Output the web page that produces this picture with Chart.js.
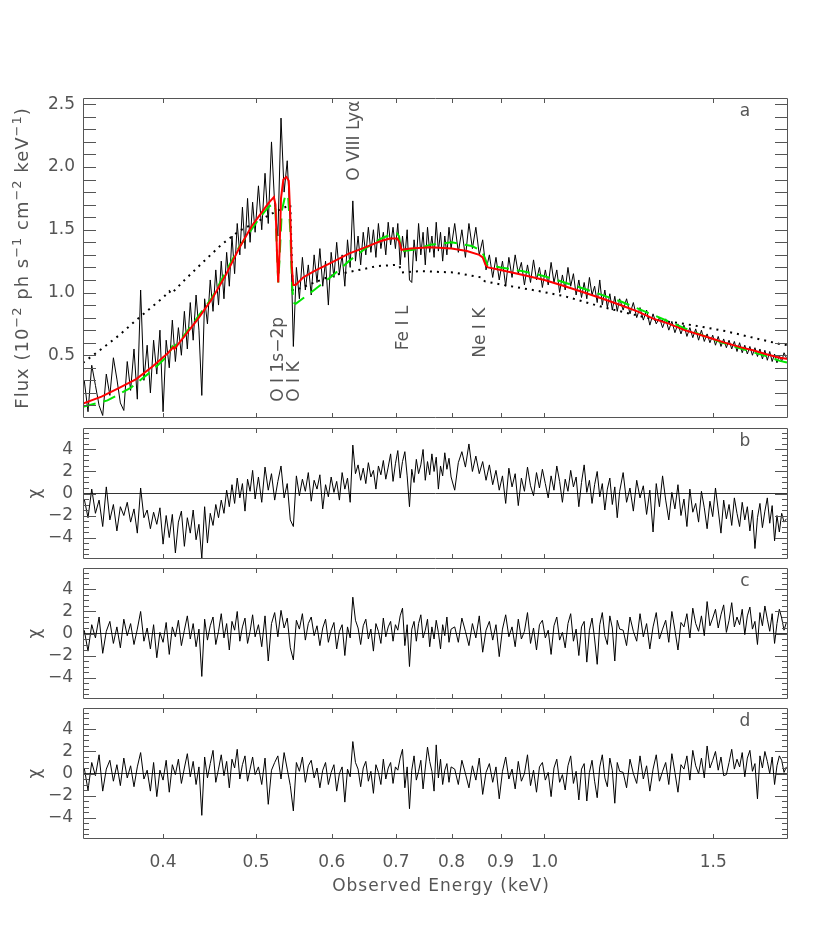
<!DOCTYPE html>
<html>
<head>
<meta charset="utf-8">
<script src="https://cdn.jsdelivr.net/npm/chart.js@4.4.1/dist/chart.umd.min.js"></script>
<style>
  html, body { margin: 0; padding: 0; background: #fff; }
  #wrap { position: relative; width: 830px; height: 933px; overflow: hidden; }
  #wrap canvas { position: absolute; left: 0; }
</style>
</head>
<body>
<div id="wrap">
  <canvas id="panelA" width="830" height="340" style="top:88px"></canvas>
  <canvas id="panelB" width="830" height="150" style="top:418px"></canvas>
  <canvas id="panelC" width="830" height="150" style="top:558px"></canvas>
  <canvas id="panelD" width="830" height="235" style="top:698px"></canvas>
</div>
<script>
// ---- axis limits & ticks ----
const X_MIN = 0.33, X_MAX = 1.795;
const xTickValues = [0.4, 0.5, 0.6, 0.7, 0.8, 0.9, 1.0, 1.5];
const fluxTickValues = [0.1, 0.2, 0.3, 0.4, 0.5, 0.6, 0.7, 0.8, 0.9, 1.0, 1.1, 1.2, 1.3,
  1.4, 1.5, 1.6, 1.7, 1.8, 1.9, 2.0, 2.1, 2.2, 2.3, 2.4, 2.5];
const fluxLabelValues = [0.5, 1.0, 1.5, 2.0, 2.5];
const chiTickValues = [-5.5, -5, -4.5, -4, -3.5, -3, -2.5, -2, -1.5, -1, -0.5, 0,
  0.5, 1, 1.5, 2, 2.5, 3, 3.5, 4, 4.5, 5, 5.5];
const chiLabelValues = [-4, -2, 0, 2, 4];

// ---- observed spectrum: energy bins (keV) ----
const energies = [
  0.331,0.334,0.337,0.340,0.343,0.346,0.349,0.352,0.355,0.358,
  0.361,0.364,0.367,0.370,0.373,0.376,0.379,0.382,0.385,0.388,
  0.391,0.394,0.397,0.400,0.403,0.406,0.409,0.412,0.415,0.418,
  0.421,0.424,0.427,0.430,0.433,0.436,0.439,0.442,0.445,0.448,
  0.451,0.454,0.457,0.460,0.463,0.466,0.469,0.472,0.475,0.478,
  0.481,0.484,0.487,0.490,0.493,0.496,0.499,
  0.503,0.507,0.511,0.515,0.519,0.523,0.527,0.531,0.535,0.539,
  0.543,0.547,0.551,0.555,0.559,0.563,0.567,0.571,0.575,0.579,
  0.583,0.587,0.591,0.595,0.599,0.603,0.607,0.611,0.615,0.619,
  0.623,0.627,0.631,0.635,0.639,0.643,0.647,0.651,0.655,0.659,
  0.663,0.667,0.671,0.675,0.679,0.683,0.687,0.691,0.695,0.699,
  0.703,0.707,0.711,0.715,0.719,0.723,0.727,0.731,0.735,0.739,
  0.743,0.747,0.751,0.755,0.759,0.763,0.767,0.771,0.775,0.779,
  0.783,0.787,0.791,0.795,0.799,
  0.806,0.813,0.820,0.827,0.834,0.841,0.848,0.855,0.862,0.869,
  0.876,0.883,0.890,0.897,0.904,0.911,0.918,0.925,0.932,0.939,
  0.946,0.953,0.960,0.967,0.974,0.981,0.988,0.995,1.002,1.009,
  1.016,1.023,1.030,1.037,1.044,1.051,1.058,1.065,1.072,1.079,
  1.086,1.093,1.100,1.107,1.114,1.121,1.128,1.135,1.142,1.149,
  1.156,1.163,1.170,1.177,1.184,1.191,1.198,
  1.208,1.218,1.228,1.238,1.248,1.258,1.268,1.278,1.288,1.298,
  1.308,1.318,1.328,1.338,1.348,1.358,1.368,1.378,1.388,1.398,
  1.408,1.418,1.428,1.438,1.448,1.458,1.468,1.478,1.488,1.498,
  1.508,1.518,1.528,1.538,1.548,1.558,1.568,1.578,1.588,1.598,
  1.608,1.618,1.628,1.638,1.648,1.658,1.668,1.678,1.688,1.698,
  1.708,1.718,1.728,1.738,1.748,1.758,1.768,1.778,1.788
];

// panel a: flux (10^-2 ph s^-1 cm^-2 keV^-1)
const flux = [
  0.30,0.05,0.42,0.26,0.10,0.02,0.35,0.18,0.48,0.31,
  0.12,0.06,0.45,0.22,0.55,0.15,1.02,0.30,0.58,0.20,
  0.62,0.35,0.70,0.05,0.62,0.40,0.78,0.45,0.72,0.50,
  0.85,0.55,0.92,0.62,0.98,0.70,0.18,0.95,0.75,1.10,
  0.85,1.18,0.90,1.25,0.95,1.32,1.05,1.45,1.15,1.55,
  1.30,1.68,1.35,1.75,1.40,1.72,1.48,
  1.85,1.50,1.95,1.55,2.20,1.70,1.45,2.39,1.80,2.05,
  1.55,0.57,1.20,0.95,1.28,1.02,1.22,0.98,1.30,1.08,
  1.35,1.05,1.25,0.90,1.32,1.12,1.40,1.15,1.30,1.05,
  1.42,1.20,1.73,1.25,1.45,1.22,1.48,1.30,1.52,1.32,
  1.50,1.28,1.55,1.35,1.48,1.30,1.56,1.38,1.52,1.35,
  1.55,1.22,1.45,1.28,1.50,1.10,1.08,1.42,1.25,1.55,
  1.30,1.48,1.22,1.52,1.32,1.45,1.28,1.56,1.33,1.48,
  1.25,1.45,1.30,1.52,1.35,
  1.55,1.32,1.50,1.28,1.55,1.35,1.52,1.30,1.42,1.18,
  1.30,1.12,1.28,1.10,1.25,1.05,1.28,1.12,1.30,1.15,
  1.24,1.06,1.22,1.08,1.26,1.10,1.20,1.04,1.18,1.06,
  1.24,1.08,1.18,1.00,1.14,1.02,1.20,1.05,1.15,0.98,
  1.10,0.96,1.08,0.95,1.12,0.98,1.05,0.92,1.10,0.90,
  1.02,0.88,0.99,0.86,0.97,0.85,0.95,
  0.86,0.95,0.83,0.92,0.80,0.88,0.78,0.86,0.74,0.83,
  0.75,0.80,0.72,0.79,0.70,0.77,0.68,0.75,0.67,0.74,
  0.65,0.72,0.64,0.71,0.62,0.70,0.61,0.67,0.60,0.66,
  0.58,0.65,0.57,0.63,0.56,0.62,0.55,0.61,0.53,0.60,
  0.52,0.58,0.51,0.57,0.50,0.56,0.49,0.55,0.47,0.54,
  0.46,0.53,0.45,0.51,0.44,0.50,0.45,0.52,0.48
];

// panel b: residuals, first model
const chiB = [
  -0.5,-2.2,0.4,-1.8,-0.6,-3.0,0.6,-2.4,-1.0,-3.4,
  -1.2,-2.0,-0.8,-2.6,-1.4,-3.6,0.5,-2.2,-1.5,-3.2,
  -1.7,-2.8,-1.3,-4.6,-2.0,-4.0,-1.9,-5.4,-2.6,-1.6,
  -4.8,-2.2,-3.6,-1.5,-4.2,-2.8,-5.9,-1.2,-4.5,-1.8,
  -2.9,-1.0,-2.2,-0.6,-1.8,0.3,-1.2,0.8,-0.9,1.4,
  -0.4,0.9,-1.6,1.3,0.2,2.1,-0.5,
  1.5,-0.8,2.4,0.3,1.8,-0.6,1.1,2.5,-0.4,0.9,
  -2.4,-3.0,1.6,-0.2,1.3,0.2,1.9,-0.7,1.2,0.4,
  1.7,-1.4,0.8,-0.3,1.5,0.1,1.1,-0.6,1.9,0.4,
  1.4,-0.8,4.4,1.8,2.6,1.2,2.3,0.9,2.8,1.5,
  2.1,0.4,2.5,1.7,3.0,1.3,2.4,3.6,1.1,2.7,
  3.9,1.4,2.9,3.8,1.6,-1.2,2.2,1.0,3.1,1.8,
  2.6,4.0,1.2,2.9,1.7,3.6,2.0,3.3,0.4,2.5,
  1.6,3.7,2.2,3.2,1.5,
  0.3,2.8,3.8,2.4,4.5,2.0,3.4,1.8,2.9,1.2,
  2.6,0.8,2.1,0.3,1.6,-0.9,2.3,0.6,1.8,-1.1,
  1.4,0.2,2.4,0.7,-0.2,1.9,0.5,2.2,0.9,-0.4,
  1.6,0.3,2.5,1.1,-0.8,1.3,0.2,2.1,0.6,1.5,
  -1.2,1.0,2.6,0.1,1.2,-0.9,0.8,2.0,-0.3,0.9,
  -1.5,0.4,1.4,-1.0,0.6,-2.2,0.2,
  1.9,-0.8,0.5,-1.6,1.2,-0.4,0.7,-1.9,0.3,-3.5,
  0.9,-1.2,1.6,-0.6,-2.4,0.1,-1.4,0.8,-2.0,-0.5,
  -3.0,0.4,-1.7,-0.9,-2.6,0.2,-1.3,-3.2,-0.7,-2.1,
  0.5,-1.5,-3.6,-0.6,-2.3,-1.0,-2.9,-0.4,-1.8,-3.0,
  -0.8,-2.4,-1.2,-3.4,-1.5,-5.0,-2.2,-0.9,-3.1,-1.6,
  -0.4,-2.7,-1.1,-4.3,-2.0,-3.5,-1.8,-2.6,-2.3
];

// panel c: residuals, second model
const chiC = [
  0.3,-1.6,0.8,-0.4,1.5,-1.8,0.2,1.1,-0.9,0.6,
  -1.3,1.3,-0.2,0.9,-1.0,0.4,2.0,-0.7,0.5,-1.4,
  0.8,-2.2,0.1,-0.8,1.0,-1.9,0.6,-0.3,1.2,-1.1,
  0.3,1.6,-0.5,0.9,-1.2,0.4,-3.9,1.3,-0.6,0.7,
  1.5,-1.0,0.2,1.8,-0.4,0.9,-1.5,1.1,0.3,2.0,
  -0.7,0.6,1.4,-0.9,0.2,1.7,-0.3,
  0.8,-1.2,1.6,-2.5,0.9,1.9,-0.3,2.1,0.5,1.4,
  -1.3,-2.4,1.2,0.4,1.8,-0.6,0.9,1.5,-0.2,0.7,
  -1.1,0.5,1.3,-0.8,0.3,1.0,-1.4,0.2,0.8,-2.0,
  0.6,-0.4,3.3,1.2,0.5,-1.0,0.7,1.3,-0.5,0.4,
  -1.6,0.9,0.2,-0.9,1.4,-0.3,0.6,1.1,-0.7,0.8,
  0.3,1.6,2.3,-1.1,0.8,-3.0,0.4,1.1,-0.7,0.9,
  1.7,-0.4,0.3,1.3,-1.2,0.6,-0.5,1.2,0.1,-1.4,
  0.8,-0.2,1.5,-0.8,0.4,
  0.6,-0.8,1.4,0.2,-1.1,0.9,-0.4,1.6,-1.7,0.3,
  1.1,-0.6,0.8,-2.1,0.4,1.7,-0.3,0.6,-1.2,1.3,
  -0.5,0.2,1.9,-0.9,0.5,-1.5,0.8,1.2,-0.4,0.3,
  -1.9,0.7,1.5,-0.6,0.1,-1.3,0.9,1.8,-0.7,0.4,
  -2.0,0.6,1.1,-2.6,0.3,1.4,-0.5,-2.8,0.8,1.9,
  -0.2,-1.0,1.6,0.5,-2.5,1.2,0.4,
  0.3,-1.1,1.5,0.2,-0.7,1.8,-0.3,0.9,-1.4,0.6,
  1.9,-0.5,0.4,1.2,-0.8,2.0,0.3,-1.5,1.0,0.6,
  1.8,-0.4,2.3,0.9,0.2,1.6,-0.2,2.9,0.7,1.4,
  2.2,0.5,1.7,2.6,0.1,1.2,2.8,0.6,1.5,0.8,
  2.2,-0.1,1.6,2.4,0.4,1.1,-1.0,1.9,0.7,2.5,
  1.3,0.2,1.8,-0.9,0.9,2.2,1.4,0.3,1.0
];

// panel d: residuals, third model
const chiD = [
  0.5,-1.5,1.0,-0.2,1.7,-1.6,0.4,1.2,-0.7,0.8,
  -1.1,1.4,-0.4,0.7,-1.2,0.6,1.9,-0.5,0.3,-1.6,
  1.0,-2.1,0.3,-0.6,1.2,-1.7,0.8,-0.1,1.3,-0.9,
  0.5,1.8,-0.3,1.1,-1.0,0.6,-3.8,1.5,-0.4,0.9,
  2.1,-0.8,0.4,1.7,-0.2,1.1,-1.3,1.3,0.5,2.2,
  -0.5,0.8,1.6,-0.7,0.4,1.5,-0.1,
  0.6,-1.0,1.4,-2.8,0.3,1.0,1.6,-0.5,1.9,0.4,
  -1.1,-3.4,1.0,0.2,1.5,-0.8,0.7,1.2,-0.4,0.5,
  -1.3,0.3,1.0,-1.0,0.1,0.8,-1.6,0.0,0.6,-2.6,
  0.4,-0.3,2.9,1.0,0.4,-1.2,0.5,1.1,-0.7,0.2,
  -1.8,0.8,0.1,-1.0,1.3,-0.5,0.5,1.0,-0.9,0.6,
  0.3,1.4,2.2,-1.3,0.6,-3.2,0.3,1.6,-0.6,0.2,
  1.2,-1.4,0.5,2.4,1.1,0.2,-1.6,2.6,-0.4,1.3,
  -1.0,0.3,0.9,-0.8,0.6,
  0.4,-1.0,1.2,0.0,-1.3,0.7,-0.6,1.4,-1.9,0.1,
  0.9,-0.8,0.6,-2.3,0.2,1.5,-0.5,0.4,-1.4,1.1,
  -0.7,0.0,1.7,-1.1,0.3,-1.7,0.6,1.0,-0.6,0.1,
  -2.1,0.5,1.3,-0.8,-0.1,-1.5,0.7,1.6,-0.9,0.2,
  -2.4,0.4,0.9,-2.5,0.1,1.2,-0.7,-2.2,0.6,1.7,
  -0.4,-1.2,1.4,0.3,-2.7,1.0,0.2,
  0.1,-1.3,1.3,0.0,-0.9,1.6,-0.5,0.7,-1.6,0.4,
  1.7,-0.7,0.2,1.0,-1.0,1.8,0.1,-1.7,0.8,0.4,
  1.6,-0.6,2.1,0.7,0.0,1.4,-0.4,2.5,0.5,1.2,
  2.0,0.3,1.5,-0.2,-0.1,1.0,2.2,0.4,1.3,0.6,
  1.9,-0.3,1.4,2.1,0.2,0.9,-2.3,1.6,0.5,2.0,
  1.1,0.0,1.5,-1.0,0.7,1.6,1.2,0.1,0.6
];

// ---- model curves in panel a ----
const redEnergy = [0.330,0.345,0.360,0.375,0.390,0.405,0.410,0.411,0.420,0.435,
  0.450,0.465,0.480,0.495,0.505,0.515,0.522,0.524,0.526,0.5275,
  0.529,0.531,0.534,0.538,0.541,0.543,0.545,0.547,0.550,0.560,
  0.575,0.600,0.625,0.650,0.675,0.690,0.702,0.706,0.709,0.725,
  0.760,0.800,0.830,0.855,0.862,0.868,0.873,0.900,0.950,1.000,
  1.050,1.100,1.150,1.200,1.250,1.300,1.350,1.400,1.450,1.500,
  1.550,1.600,1.650,1.700,1.760,1.795];
const redFlux = [0.115,0.17,0.24,0.31,0.41,0.52,0.565,0.55,0.64,0.79,
  0.95,1.14,1.35,1.53,1.62,1.71,1.76,1.70,1.30,1.08,
  1.30,1.75,1.90,1.92,1.89,1.60,1.20,1.06,1.06,1.12,
  1.17,1.24,1.31,1.36,1.41,1.43,1.43,1.40,1.34,1.35,
  1.36,1.35,1.33,1.30,1.28,1.22,1.20,1.18,1.14,1.10,
  1.05,1.00,0.95,0.90,0.85,0.79,0.75,0.70,0.665,0.63,
  0.595,0.565,0.54,0.51,0.48,0.47];

const greenEnergy = [0.330,0.350,0.370,0.390,0.405,0.409,0.410,0.420,0.450,0.480,
  0.505,0.515,0.522,0.524,0.526,0.5275,0.529,0.532,0.536,0.540,
  0.543,0.545,0.547,0.550,0.575,0.600,0.625,0.650,0.675,0.690,
  0.702,0.705,0.709,0.730,0.760,0.800,0.840,0.860,0.866,0.872,
  0.900,0.950,1.000,1.100,1.200,1.300,1.400,1.500,1.600,1.700,
  1.760,1.795];
const greenFlux = [0.09,0.14,0.24,0.38,0.50,0.57,0.56,0.65,0.96,1.36,
  1.60,1.68,1.71,1.66,1.30,1.08,1.25,1.65,1.76,1.78,
  1.50,1.10,0.92,0.91,1.02,1.13,1.25,1.35,1.43,1.46,
  1.47,1.45,1.33,1.34,1.38,1.40,1.37,1.33,1.28,1.22,
  1.20,1.17,1.13,1.03,0.93,0.82,0.715,0.625,0.555,0.495,
  0.455,0.44];

const dotEnergy = [0.330,0.345,0.360,0.375,0.390,0.400,0.406,0.408,0.420,0.440,
  0.460,0.480,0.500,0.520,0.543,0.546,0.550,0.600,0.650,0.668,
  0.700,0.706,0.709,0.742,0.803,0.860,0.866,0.906,0.981,1.050,
  1.151,1.230,1.309,1.400,1.463,1.550,1.650,1.759,1.795];
const dotFlux = [0.44,0.55,0.66,0.78,0.89,0.96,1.01,0.99,1.09,1.24,
  1.38,1.49,1.56,1.63,1.70,1.02,1.02,1.135,1.19,1.21,
  1.22,1.21,1.16,1.17,1.16,1.12,1.09,1.06,1.015,0.97,
  0.883,0.83,0.78,0.75,0.725,0.69,0.64,0.59,0.58];

// line identifications (energy keV, flux where the text starts)
const lineNotes = [
  { e: 0.528, f: 0.13, text: 'O I 1s\u22122p' },
  { e: 0.548, f: 0.13, text: 'O I K' },
  { e: 0.633, f: 1.89, text: 'O VIII Ly\u03b1' },
  { e: 0.712, f: 0.54, text: 'Fe I L' },
  { e: 0.858, f: 0.48, text: 'Ne I K' }
];

// axis titles, split into normal / superscript runs
const fluxTitle = [
  { t: 'Flux (10' }, { t: '\u22122', sup: true }, { t: ' ph s' }, { t: '\u22121', sup: true },
  { t: ' cm' }, { t: '\u22122', sup: true }, { t: ' keV' }, { t: '\u22121', sup: true }, { t: ')' }
];
const energyTitle = [{ t: 'Observed Energy (keV)' }];

const TEXT = '#555';
const FRAME = '#555';
const FONT = "'DejaVu Sans', sans-serif";
Chart.defaults.font.family = FONT;
Chart.defaults.font.size = 17;
Chart.defaults.color = TEXT;

const pairs = (xs, ys) => xs.map((x, i) => ({ x: x, y: ys[i] }));
const zeroLine = [{ x: X_MIN, y: 0 }, { x: X_MAX, y: 0 }];

// text made of runs, centred on (cx, cy), optionally turned to read upwards
function drawRuns(ctx, runs, cx, cy, upright, size) {
  ctx.save();
  ctx.translate(cx, cy);
  if (upright) ctx.rotate(-Math.PI / 2);
  ctx.letterSpacing = '1px';
  ctx.textAlign = 'left';
  ctx.textBaseline = 'alphabetic';
  const fontOf = r => (r.sup ? Math.round(size * 0.7) : size) + 'px ' + FONT;
  const widths = runs.map(r => { ctx.font = fontOf(r); return ctx.measureText(r.t).width; });
  let x = -widths.reduce((s, w) => s + w, 0) / 2;
  runs.forEach((r, i) => {
    ctx.font = fontOf(r);
    ctx.fillText(r.t, x, r.sup ? -size * 0.05 : size * 0.36);
    x += widths[i];
  });
  ctx.restore();
}

// IDL-like box with inward ticks, panel letter and line labels
function frame(o) {
  return {
    id: 'frame' + o.letter,
    afterDatasetsDraw(chart) {
      const { ctx, chartArea: a } = chart;
      const xs = chart.scales.x, ys = chart.scales.y;
      ctx.save();
      ctx.strokeStyle = FRAME;
      ctx.lineWidth = 1;
      ctx.beginPath();
      ctx.rect(a.left + 0.5, a.top + 0.5, a.right - a.left - 1, a.bottom - a.top - 1);
      xTickValues.forEach(v => {
        const px = Math.round(xs.getPixelForValue(v)) + 0.5;
        ctx.moveTo(px, a.top); ctx.lineTo(px, a.top + 5);
        ctx.moveTo(px, a.bottom); ctx.lineTo(px, a.bottom - 5);
      });
      o.yTicks.forEach(v => {
        const py = Math.round(ys.getPixelForValue(v)) + 0.5;
        const len = o.yLabels.includes(v) ? o.majorLen : o.minorLen;
        ctx.moveTo(a.left, py); ctx.lineTo(a.left + len, py);
        ctx.moveTo(a.right, py); ctx.lineTo(a.right - len, py);
      });
      ctx.stroke();

      ctx.fillStyle = TEXT;
      ctx.font = '17px ' + FONT;
      ctx.textAlign = 'center';
      ctx.textBaseline = 'middle';
      ctx.fillText(o.letter, a.right - 43, a.top + 14);

      (o.notes || []).forEach(n => {
        ctx.save();
        ctx.translate(xs.getPixelForValue(n.e), ys.getPixelForValue(n.f));
        ctx.rotate(-Math.PI / 2);
        ctx.textAlign = 'left';
        ctx.fillText(n.text, 0, 0);
        ctx.restore();
      });

      if (o.yRuns) drawRuns(ctx, o.yRuns, 22, (a.top + a.bottom) / 2, true, 18);
      if (o.xRuns) drawRuns(ctx, o.xRuns, 441, a.bottom + 46, false, 17);
      ctx.restore();
    }
  };
}

function makePanel(id, o) {
  return new Chart(document.getElementById(id), {
    type: 'line',
    data: { datasets: o.datasets },
    options: {
      responsive: false,
      animation: false,
      devicePixelRatio: 1,
      events: [],
      layout: { padding: { top: 10, right: 42, bottom: 0, left: 0 } },
      plugins: { legend: { display: false }, tooltip: { enabled: false } },
      elements: { point: { radius: 0 }, line: { tension: 0 } },
      scales: {
        x: {
          type: 'logarithmic',
          min: X_MIN, max: X_MAX, bounds: 'data',
          grid: { display: false, drawTicks: false },
          border: { display: false },
          afterBuildTicks: s => { s.ticks = xTickValues.map(v => ({ value: v })); },
          afterFit: s => { s.height = o.xHeight; s.paddingLeft = 0; s.paddingRight = 0; },
          ticks: {
            display: !!o.showX, autoSkip: false, maxRotation: 0, padding: 13,
            callback: v => Number(v).toFixed(1)
          }
        },
        y: {
          type: 'linear',
          min: o.yMin, max: o.yMax,
          grid: { display: false, drawTicks: false },
          border: { display: false },
          afterBuildTicks: s => { s.ticks = o.yTicks.map(v => ({ value: v })); },
          afterFit: s => { s.width = 83; s.paddingTop = 0; s.paddingBottom = 0; },
          ticks: {
            autoSkip: false, padding: o.yPad,
            callback: v => o.yLabels.includes(v) ? o.fmt(v) : ''
          },
          title: {
            display: !!o.yTitle, text: o.yTitle || '',
            padding: { top: o.titlePad, bottom: 0 }
          }
        }
      }
    },
    plugins: [frame(o)]
  });
}

const fmtFlux = v => v.toFixed(1);
const fmtChi = v => (v < 0 ? '\u2212' + Math.abs(v) : String(v));

makePanel('panelA', {
  letter: 'a', xHeight: 10, yMin: 0, yMax: 2.55,
  yTicks: fluxTickValues, yLabels: fluxLabelValues, fmt: fmtFlux,
  majorLen: 13, minorLen: 13, yPad: 8, yRuns: fluxTitle,
  notes: lineNotes,
  datasets: [
    { data: pairs(redEnergy, redFlux), borderColor: '#ff0000', borderWidth: 2 },
    { data: pairs(greenEnergy, greenFlux), borderColor: '#00e600', borderWidth: 2, borderDash: [13, 8] },
    { data: pairs(dotEnergy, dotFlux), borderColor: '#000', borderWidth: 2, borderDash: [2, 5] },
    { data: pairs(energies, flux), borderColor: '#000', borderWidth: 1 }
  ]
});

const chiPanel = (id, letter, values, xHeight, showX) => makePanel(id, {
  letter: letter, xHeight: xHeight, showX: showX, yMin: -5.95, yMax: 5.95,
  yTicks: chiTickValues, yLabels: chiLabelValues, fmt: fmtChi,
  majorLen: 13, minorLen: 6, yPad: 10, titlePad: 25, yTitle: '\u03c7',
  xRuns: showX ? energyTitle : null,
  datasets: [
    { data: pairs(energies, values), borderColor: '#000', borderWidth: 1 },
    { data: zeroLine, borderColor: '#333', borderWidth: 1 }
  ]
});

chiPanel('panelB', 'b', chiB, 9, false);
chiPanel('panelC', 'c', chiC, 9, false);
chiPanel('panelD', 'd', chiD, 94, true);
</script>
</body>
</html>
